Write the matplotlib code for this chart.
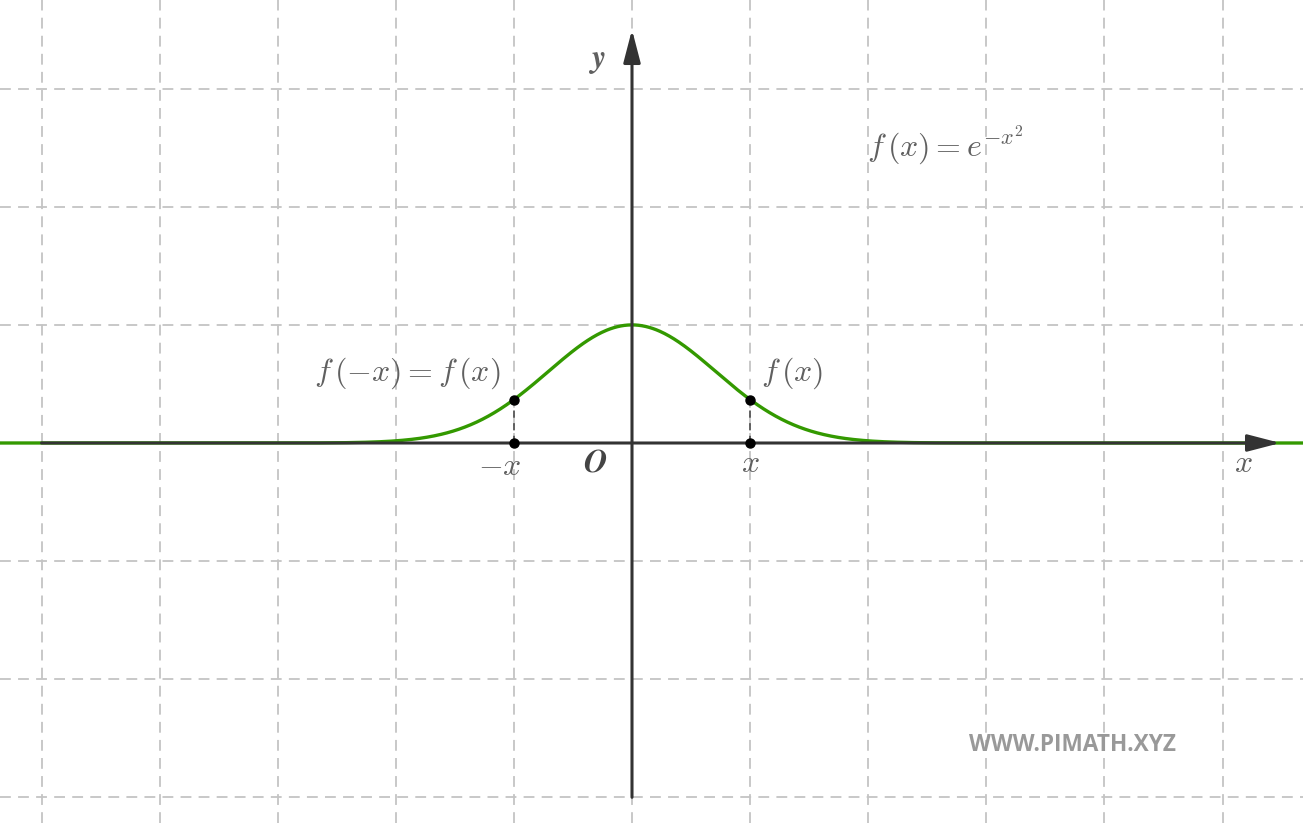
import numpy as np
import matplotlib.pyplot as plt

plt.rcParams['mathtext.fontset'] = 'cm'

# data
x_marks = [-1.0, 1.0]          # the two symmetric points
x_grid = np.arange(-5, 6)      # vertical grid lines
y_grid = np.arange(-3, 4)      # horizontal grid lines

unit = 118.1                   # pixels per unit
W, H = 1303, 823
ox, oy = 632, 443              # origin in pixels

fig = plt.figure(figsize=(W / 100, H / 100), dpi=100)
ax = fig.add_axes([0, 0, 1, 1])
ax.set_xlim(-ox / unit, (W - ox) / unit)
ax.set_ylim(-(H - oy) / unit, oy / unit)
ax.axis('off')

gcol = '#c4c4c4'
for gx in x_grid:
	ax.axvline(gx, color=gcol, lw=1.3, ls=(0, (6, 4)), zorder=0)
for gy in y_grid:
	ax.axhline(gy, color=gcol, lw=1.3, ls=(0, (6, 4)), zorder=0)

# curve
xs = np.linspace(-6, 6, 1200)
ax.plot(xs, np.exp(-xs**2), color='#339900', lw=2.4, zorder=2)

# axes with arrows
acol = '#333333'
astyle = '-|>,head_length=1.0,head_width=0.26'
ax.annotate('', xy=(5.49, 0), xytext=(-5, 0),
	arrowprops=dict(arrowstyle=astyle, color=acol, lw=2.2,
	shrinkA=0, shrinkB=0, mutation_scale=20), zorder=3)
ax.annotate('', xy=(0, 3.5), xytext=(0, -3),
	arrowprops=dict(arrowstyle=astyle, color=acol, lw=2.2,
	shrinkA=0, shrinkB=0, mutation_scale=20), zorder=3)

# points and dashed projections
for xm in x_marks:
	ym = np.exp(-xm**2)
	ax.plot([xm, xm], [0, ym], color='#555555', lw=1.3, ls=(0, (4, 3)), zorder=3)
	ax.plot([xm, xm], [0, ym], 'o', color='black', ms=6.5, zorder=4)

tcol = '#606060'
fs = 23
ax.text(-0.296, 3.24, r'$\mathbfit{y}$', color=tcol, fontsize=fs, ha='center', va='center')
ax.text(5.18, -0.17, r'$x$', color=tcol, fontsize=fs, ha='center', va='center')
ax.text(-0.313, -0.17, r'$\mathbfit{O}$', color='#444444', fontsize=fs, ha='center', va='center')
ax.text(-1.12, -0.2, r'$-x$', color=tcol, fontsize=fs, ha='center', va='center')
ax.text(1.0, -0.17, r'$x$', color=tcol, fontsize=fs, ha='center', va='center')
ax.text(1.09, 0.593, r'$f\,(x)$', color=tcol, fontsize=fs, ha='left', va='center')
ax.text(-1.905, 0.593, r'$f\,(-x)=f\,(x)$', color=tcol, fontsize=fs, ha='center', va='center')
ax.text(1.99, 2.43, r'$f\,(x)=e^{-x^2}$', color=tcol, fontsize=fs, ha='left', va='baseline')

ax.text((1072 - ox) / unit, (oy - 745) / unit, 'WWW.PIMATH.XYZ', color='#999999',
	fontsize=16.3, fontweight='bold', family='Open Sans', ha='center', va='center')

fig.savefig('out.png', dpi=100)
